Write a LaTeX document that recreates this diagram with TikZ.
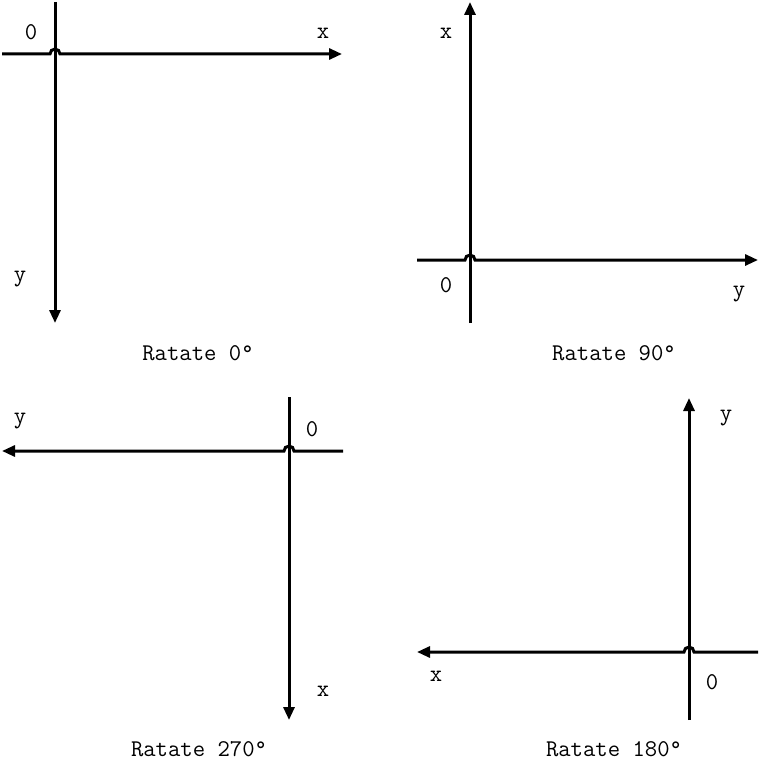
\documentclass[tikz,border=0pt]{standalone}
\usepackage{fontspec}
\usetikzlibrary{arrows.meta}

\begin{document}
\begin{tikzpicture}[x=1pt,y=-1pt,>={Triangle[length=13pt,width=11pt]},
  axisline/.style={line width=3pt},
  lbl/.style={font=\ttfamily\fontsize{24}{28}\selectfont,inner sep=0pt},
  title/.style={font=\ttfamily\fontsize{24}{28}\selectfont,inner sep=0pt}]
\path[use as bounding box] (0,0) rectangle (760,770);
% Rotate 0
\coordinate (o1) at (55,54);
\coordinate (x1a) at (2,54); \coordinate (x1b) at (342,54);
\coordinate (y1a) at (55,2); \coordinate (y1b) at (55,323);
\draw[axisline,->] (y1a) -- (y1b);
\draw[axisline,->] (x1a) -- ([xshift=-5pt]o1) arc[start angle=180,end angle=360,radius=5] -- (x1b);
\node[lbl] (z1) at (31,32) {0};
\node[lbl] (lx1) at (323,33) {x};
\node[lbl] (ly1) at (20,279) {y};
\node[title] (t1) at (198,353) {Ratate 0°};
% Rotate 90
\coordinate (o2) at (470,260);
\coordinate (x2a) at (470,323); \coordinate (x2b) at (470,2);
\coordinate (y2a) at (417,260); \coordinate (y2b) at (758,260);
\draw[axisline,->] (x2a) -- (x2b);
\draw[axisline,->] (y2a) -- ([xshift=-5pt]o2) arc[start angle=180,end angle=360,radius=5] -- (y2b);
\node[lbl] (lx2) at (446,33) {x};
\node[lbl] (z2) at (446,285) {0};
\node[lbl] (ly2) at (739,294) {y};
\node[title] (t2) at (614,353) {Ratate 90°};
% Rotate 270
\coordinate (o3) at (289,451);
\coordinate (x3a) at (289,397); \coordinate (x3b) at (289,720);
\coordinate (y3a) at (343,451); \coordinate (y3b) at (2,451);
\draw[axisline,->] (x3a) -- (x3b);
\draw[axisline,->] (y3a) -- ([xshift=5pt]o3) arc[start angle=0,end angle=-180,radius=5] -- (y3b);
\node[lbl] (ly3) at (20,421) {y};
\node[lbl] (z3) at (312,429) {0};
\node[lbl] (lx3) at (323,691) {x};
\node[title] (t3) at (199,749) {Ratate 270°};
% Rotate 180
\coordinate (o4) at (689,652);
\coordinate (y4a) at (689,720); \coordinate (y4b) at (689,398);
\coordinate (x4a) at (758,652); \coordinate (x4b) at (417,652);
\draw[axisline,->] (y4a) -- (y4b);
\draw[axisline,->] (x4a) -- ([xshift=5pt]o4) arc[start angle=0,end angle=-180,radius=5] -- (x4b);
\node[lbl] (ly4) at (726,418) {y};
\node[lbl] (lx4) at (436,676) {x};
\node[lbl] (z4) at (712,682) {0};
\node[title] (t4) at (614,749) {Ratate 180°};
\end{tikzpicture}
\end{document}
